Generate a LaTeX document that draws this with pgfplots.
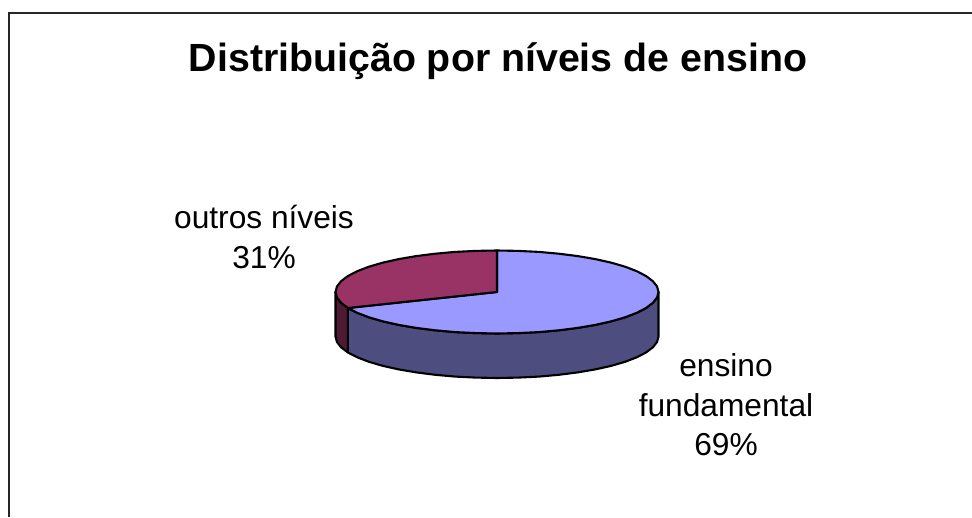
\documentclass[border=0pt]{standalone}
\usepackage{fontspec}
\setmainfont{Liberation Sans}
\usepackage{pgfplots}
\pgfplotsset{compat=1.18}
\definecolor{bluetop}{HTML}{9999FF}
\definecolor{blueside}{HTML}{4D4D80}
\definecolor{redtop}{HTML}{993366}
\definecolor{redside}{HTML}{4D1933}
\begin{document}
\begin{tikzpicture}
\begin{axis}[
  x=1pt,y=1pt,
  scale only axis,
  width=972pt,height=517pt,
  xmin=-497,xmax=475,ymin=-225,ymax=292,
  hide axis,
  clip=true,
]
\path[use as bounding box] (axis cs:-497,-225) rectangle (axis cs:475,292);
% chart frame
\addplot[draw=black!85,line width=1.5pt] coordinates {(-488,-225) (-488,279) (475,279)};
% side walls
\addplot[fill=blueside,draw=black,line width=2.1pt,line join=round] coordinates {
 (161.5,0) (160.1,-5.4) (156.0,-10.7) (149.2,-15.9) (139.9,-20.75) (128.1,-25.3) (114.2,-29.35) (98.3,-32.9) (80.75,-35.9) (61.8,-38.3) (41.8,-40.1) (21.1,-41.1) (0,-41.5)
 (-21.1,-41.1) (-41.8,-40.1) (-61.8,-38.3) (-80.75,-35.9) (-98.3,-32.9) (-114.2,-29.35) (-128.1,-25.3) (-139.9,-20.75) (-149.1,-16)
 (-149.1,-60.5) (-139.9,-65.25) (-128.1,-69.8) (-114.2,-73.85) (-98.3,-77.4) (-80.75,-80.4) (-61.8,-82.8) (-41.8,-84.6) (-21.1,-85.6) (0,-86)
 (21.1,-85.6) (41.8,-84.6) (61.8,-82.8) (80.75,-80.4) (98.3,-77.4) (114.2,-73.85) (128.1,-69.8) (139.9,-65.25) (149.2,-60.4) (156.0,-55.2) (160.1,-49.9) (161.5,-44.5)
} -- cycle;
\addplot[fill=redside,draw=black,line width=2.1pt,line join=round] coordinates {
 (-161.5,0) (-160.1,-5.4) (-156.0,-10.7) (-149.1,-16)
 (-149.1,-60.5) (-156.0,-55.2) (-160.1,-49.9) (-161.5,-44.5)
} -- cycle;
% top faces
\addplot[fill=bluetop,draw=black,line width=2.1pt,line join=round] coordinates {
 (0,0) (-149.1,-16) (-139.9,-20.75) (-128.1,-25.3) (-114.2,-29.35) (-98.3,-32.9) (-80.75,-35.9) (-61.8,-38.3) (-41.8,-40.1) (-21.1,-41.1) (0,-41.5)
 (21.1,-41.1) (41.8,-40.1) (61.8,-38.3) (80.75,-35.9) (98.3,-32.9) (114.2,-29.35) (128.1,-25.3) (139.9,-20.75) (149.2,-15.9) (156.0,-10.7) (160.1,-5.4) (161.5,0)
 (160.1,5.4) (156.0,10.7) (149.2,15.9) (139.9,20.75) (128.1,25.3) (114.2,29.35) (98.3,32.9) (80.75,35.9) (61.8,38.3) (41.8,40.1) (21.1,41.1) (0,41.5)
} -- cycle;
\addplot[fill=redtop,draw=black,line width=2.1pt,line join=round] coordinates {
 (0,0) (0,41.5) (-21.1,41.1) (-41.8,40.1) (-61.8,38.3) (-80.75,35.9) (-98.3,32.9) (-114.2,29.35) (-128.1,25.3) (-139.9,20.75) (-149.2,15.9) (-156.0,10.7) (-160.1,5.4) (-161.5,0)
 (-160.1,-5.4) (-156.0,-10.7) (-149.1,-16)
} -- cycle;
% texts
\node[font=\fontsize{39.3}{45}\selectfont\bfseries,anchor=center] at (axis cs:1,231) {Distribuição por níveis de ensino};
\node[font=\fontsize{31.7}{39.5}\selectfont,align=center,anchor=center] at (axis cs:-233,55) {outros níveis\\31\%};
\node[font=\fontsize{31.7}{39.5}\selectfont,align=center,anchor=center] at (axis cs:229,-113) {ensino\\fundamental\\69\%};
\end{axis}
\end{tikzpicture}
\end{document}
